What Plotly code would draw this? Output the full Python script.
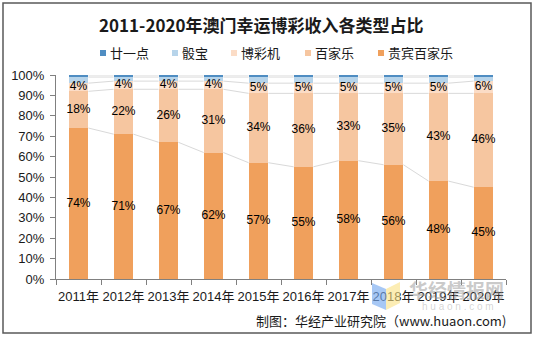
import numpy as np
import plotly.graph_objects as go

years = ["2011年", "2012年", "2013年", "2014年", "2015年",
         "2016年", "2017年", "2018年", "2019年", "2020年"]

# shares of gaming revenue by game type (%)
vip_baccarat = [74, 71, 67, 62, 57, 55, 58, 56, 48, 45]
baccarat = [18, 22, 26, 31, 34, 36, 33, 35, 43, 46]
slots = [4, 4, 4, 4, 5, 5, 5, 5, 5, 6]
sic_bo = [3, 2, 2, 2, 3, 3, 3, 3, 3, 2]
blackjack = [1, 1, 1, 1, 1, 1, 1, 1, 1, 1]

series = [
    ("贵宾百家乐", vip_baccarat, "#F0A05C", True),
    ("百家乐", baccarat, "#F6C6A0", True),
    ("博彩机", slots, "#FBDCC6", True),
    ("骰宝", sic_bo, "#B7D4EA", False),
    ("廿一点", blackjack, "#4F8DC2", False),
]

BAR_W = 0.44
fig = go.Figure()

# stacked columns
for name, vals, color, _ in series:
    fig.add_trace(go.Bar(
        name=name, x=years, y=vals, marker=dict(color=color, line=dict(width=0)),
        width=BAR_W, hoverinfo="skip", showlegend=False,
    ))

# connector lines between the tops of each stack level
pos = np.arange(len(years))
cum = np.zeros(len(years))
for name, vals, color, _ in series:
    cum = cum + np.array(vals)
    xs, ys = [], []
    for i in range(len(years) - 1):
        xs += [pos[i] + BAR_W / 2, pos[i + 1] - BAR_W / 2, None]
        ys += [cum[i], cum[i + 1], None]
    fig.add_trace(go.Scatter(
        x=xs, y=ys, xaxis="x2", mode="lines", showlegend=False,
        line=dict(color="#D9D9D9", width=1), hoverinfo="skip",
    ))

# value labels centred in the labelled segments
base = np.zeros(len(years))
for name, vals, color, labelled in series:
    v = np.array(vals)
    if labelled:
        fig.add_trace(go.Scatter(
            x=pos, y=base + v / 2, xaxis="x2", mode="text",
            text=[f"{val}%" for val in vals], showlegend=False,
            textfont=dict(family="Liberation Sans, Arial", size=12, color="#000000"),
            hoverinfo="skip",
        ))
    base = base + v

L, R, T, B = 56, 29, 75, 58
W, H = 535, 337
pw, ph = W - L - R, H - T - B


def px(xp):
    return (xp - L) / pw


def py(yp):
    return (H - B - yp) / ph


shapes = [
    # outer frame
    dict(type="rect", xref="paper", yref="paper",
         x0=px(3), x1=px(531), y0=py(333), y1=py(3),
         line=dict(color="#595959", width=1.5), fillcolor="rgba(0,0,0,0)", layer="above"),
    # logo marks of the watermark
    dict(type="path", xref="paper", yref="paper",
         path=f"M {px(372)} {py(283)} L {px(386)} {py(289)} L {px(386)} {py(310)} L {px(372)} {py(304)} Z",
         fillcolor="rgba(120,170,240,0.65)", line=dict(width=0), layer="above"),
    dict(type="path", xref="paper", yref="paper",
         path=f"M {px(386)} {py(289)} L {px(400)} {py(282)} L {px(400)} {py(303)} L {px(386)} {py(310)} Z",
         fillcolor="rgba(250,225,130,0.6)", line=dict(width=0), layer="above"),
]

annotations = [
    dict(text="2011-2020年澳门幸运博彩收入各类型占比", xref="paper", yref="paper",
         x=px(261), y=py(24), showarrow=False, xanchor="center", yanchor="middle",
         font=dict(family="Noto Sans CJK SC", size=17, color="#1a1a1a", weight="bold")),
    dict(text="制图：华经产业研究院（www.huaon.com)", xref="paper", yref="paper",
         x=px(508), y=py(320), showarrow=False, xanchor="right", yanchor="middle",
         font=dict(family="Noto Sans CJK SC, Liberation Sans", size=13, color="#1a1a1a")),
    dict(text="<b>华经情报网</b>", xref="paper", yref="paper",
         x=px(456), y=py(289), showarrow=False, xanchor="center", yanchor="middle",
         font=dict(family="Noto Sans CJK SC", size=19, color="rgba(150,150,150,0.5)")),
    dict(text="h u a o n . c o m", xref="paper", yref="paper",
         x=px(458), y=py(306), showarrow=False, xanchor="center", yanchor="middle",
         font=dict(family="Liberation Sans", size=10, color="rgba(160,160,160,0.45)")),
]

# legend row: small square swatch followed by the series name
legend_x = [100, 172, 231, 305, 378]
for (name, vals, color, _), lx in zip(series[::-1], legend_x):
    shapes.append(dict(type="rect", xref="paper", yref="paper",
                       x0=px(lx), x1=px(lx + 6), y0=py(56), y1=py(50),
                       fillcolor=color, line=dict(width=0)))
    annotations.append(dict(text=name, xref="paper", yref="paper",
                            x=px(lx + 8), y=py(53), showarrow=False,
                            xanchor="left", yanchor="middle",
                            font=dict(family="Noto Sans CJK SC", size=13, color="#1a1a1a")))

fig.update_layout(
    width=W, height=H, barmode="stack", bargap=0.56, showlegend=False,
    margin=dict(l=L, r=R, t=T, b=B, pad=0),
    paper_bgcolor="#FFFFFF", plot_bgcolor="#FFFFFF",
    font=dict(family="Liberation Sans, Arial", size=12, color="#1a1a1a"),
    xaxis=dict(type="category", tickson="boundaries", ticks="outside", ticklen=5,
               tickcolor="#808080", showline=True, linecolor="#808080", linewidth=1,
               showgrid=False, tickangle=0, ticklabelstandoff=5,
               tickfont=dict(family="Liberation Sans, Noto Sans CJK SC", size=13),
               range=[-0.5, 9.5]),
    xaxis2=dict(overlaying="x", range=[-0.5, 9.5], visible=False, fixedrange=True),
    yaxis=dict(range=[0, 100], tickvals=list(range(0, 101, 10)),
               ticktext=[f"{v}%" for v in range(0, 101, 10)],
               ticks="outside", ticklen=5, tickcolor="#808080", ticklabelstandoff=3,
               showline=True, linecolor="#808080", linewidth=1, showgrid=False,
               zeroline=False, tickfont=dict(size=13)),
    shapes=shapes, annotations=annotations,
)

fig.write_html("out.html")
